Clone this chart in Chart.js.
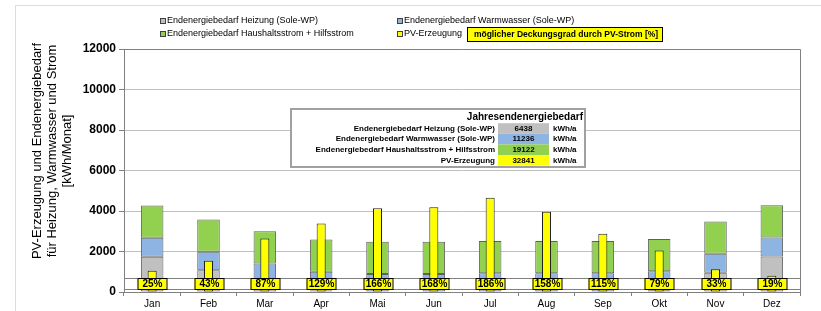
<!DOCTYPE html>
<html>
<head>
<meta charset="utf-8">
<script src="https://cdn.jsdelivr.net/npm/chart.js@4/dist/chart.umd.min.js"></script>
<style>
  html, body { margin: 0; padding: 0; background: #fff; }
  #wrap { position: relative; width: 821px; height: 311px; }
</style>
</head>
<body>
<div id="wrap"><canvas id="chart" width="821" height="311"></canvas></div>
<script>
// Monatswerte in kWh
const monate = ['Jan', 'Feb', 'Mar', 'Apr', 'Mai', 'Jun', 'Jul', 'Aug', 'Sep', 'Okt', 'Nov', 'Dez'];
const heizung = [1740, 1080, 470, 70, 0, 0, 0, 0, 0, 90, 950, 1755];
const warmwasser = [935, 905, 940, 930, 890, 890, 920, 920, 920, 930, 935, 935];
const haushalt = [1595, 1595, 1595, 1595, 1595, 1595, 1595, 1595, 1595, 1595, 1595, 1595];
const pvErzeugung = [1050, 1540, 2640, 3380, 4130, 4180, 4660, 3960, 2880, 2050, 1120, 800];
const deckungsgrad = ['25%', '43%', '87%', '129%', '166%', '168%', '186%', '158%', '115%', '79%', '33%', '19%'];

// Jahreswerte (Tabelle)
const tabelleLabels = [
  'Endenergiebedarf Heizung (Sole-WP)',
  'Endenergiebedarf Warmwasser (Sole-WP)',
  'Endenergiebedarf Haushaltsstrom + Hilfsstrom',
  'PV-Erzeugung'
];
const tabelleWerte = ['6438', '11236', '19122', '32841'];

const FONT = "'Liberation Sans', Arial, sans-serif";
const farben = ['#c0c0c0', '#8eb4e3', '#92d050', '#ffff00'];

const extras = {
  id: 'extras',
  afterDraw(chart) {
    const ctx = chart.ctx;
    const area = chart.chartArea;
    const x = chart.scales.x;
    ctx.save();

    // aeusserer Rahmen
    ctx.strokeStyle = '#dcdcdc';
    ctx.lineWidth = 1;
    ctx.strokeRect(15.5, 5.5, 900, 400);

    // Rahmen Plotbereich
    ctx.strokeStyle = '#808080';
    ctx.beginPath();
    ctx.moveTo(area.left, area.top + 0.5);
    ctx.lineTo(area.right + 0.5, area.top + 0.5);
    ctx.lineTo(area.right + 0.5, area.bottom);
    ctx.stroke();

    // Y-Achsentitel
    const titel = ['PV-Erzeugung und Endenergiebedarf', 'für Heizung, Warmwasser und Strom', '[kWh/Monat]'];
    ctx.fillStyle = '#000';
    ctx.font = '13px ' + FONT;
    ctx.textAlign = 'center';
    ctx.textBaseline = 'middle';
    titel.forEach((t, i) => {
      ctx.save();
      ctx.translate(37 + i * 15, 151);
      ctx.rotate(-Math.PI / 2);
      ctx.fillText(t, 0, 0);
      ctx.restore();
    });

    // Legende
    const leg = [
      [160, 21, farben[0], 'Endenergiebedarf Heizung (Sole-WP)'],
      [397, 21, farben[1], 'Endenergiebedarf Warmwasser (Sole-WP)'],
      [160, 34, farben[2], 'Endenergiebedarf Haushaltsstrom + Hilfsstrom'],
      [397, 34, farben[3], 'PV-Erzeugung']
    ];
    ctx.font = '9px ' + FONT;
    ctx.textAlign = 'left';
    leg.forEach(([lx, ly, c, t]) => {
      ctx.fillStyle = '#404040';
      ctx.fillRect(lx, ly - 3, 6, 6);
      ctx.fillStyle = c;
      ctx.fillRect(lx + 1, ly - 2, 4, 4);
      ctx.fillStyle = '#000';
      ctx.fillText(t, lx + 7, ly);
    });
    ctx.fillStyle = '#ffff00';
    ctx.fillRect(467, 27, 195, 14);
    ctx.strokeStyle = '#000';
    ctx.strokeRect(467.5, 27.5, 195, 14);
    ctx.fillStyle = '#000';
    ctx.font = 'bold 8.5px ' + FONT;
    ctx.textAlign = 'center';
    ctx.fillText('möglicher Deckungsgrad durch PV-Strom [%]', 566, 34.5);

    // Tabelle Jahresendenergiebedarf
    ctx.fillStyle = '#fff';
    ctx.fillRect(291, 109, 294, 58);
    ctx.strokeStyle = '#a0a0a0';
    ctx.lineWidth = 2;
    ctx.strokeRect(291, 109, 294, 58);
    ctx.lineWidth = 1;
    ctx.fillStyle = '#000';
    ctx.font = 'bold 10px ' + FONT;
    ctx.textAlign = 'right';
    ctx.fillText('Jahresendenergiebedarf', 583, 117);
    tabelleLabels.forEach((t, i) => {
      const ry = 128.5 + i * 10.6;
      ctx.fillStyle = farben[i];
      ctx.fillRect(498, ry - 5.3, 51, 10.6);
      ctx.fillStyle = '#000';
      ctx.font = 'bold 8px ' + FONT;
      ctx.textAlign = 'right';
      ctx.fillText(t, 495, ry);
      ctx.textAlign = 'center';
      ctx.fillText(tabelleWerte[i], 523.5, ry);
      ctx.textAlign = 'left';
      ctx.fillText('kWh/a', 553, ry);
    });

    // Band mit Deckungsgrad
    const bTop = 278, bBot = 289;
    ctx.fillStyle = '#fff';
    ctx.fillRect(area.left + 1, bTop, area.right - area.left - 1, bBot - bTop);
    ctx.strokeStyle = '#808080';
    ctx.beginPath();
    ctx.moveTo(area.left, bTop + 0.5); ctx.lineTo(area.right, bTop + 0.5);
    ctx.moveTo(area.left, bBot + 0.5); ctx.lineTo(area.right, bBot + 0.5);
    ctx.stroke();
    ctx.font = 'bold 10px ' + FONT;
    ctx.textAlign = 'center';
    deckungsgrad.forEach((t, i) => {
      const cx = Math.round(x.getPixelForValue(i));
      ctx.fillStyle = '#ffff00';
      ctx.fillRect(cx - 14.5, bTop, 29, bBot - bTop + 1);
      ctx.strokeStyle = '#000';
      ctx.strokeRect(cx - 14, bTop + 0.5, 29, bBot - bTop);
      ctx.fillStyle = '#000';
      ctx.fillText(t, cx + 0.5, (bTop + bBot) / 2 + 1);
    });
    ctx.restore();
  }
};

const bedarfStil = {
  stack: 'bedarf',
  xAxisID: 'x',
  order: 1,
  grouped: false,
  borderColor: '#606060',
  borderWidth: 1,
  borderSkipped: false,
  categoryPercentage: 1,
  barPercentage: 0.4
};

new Chart(document.getElementById('chart'), {
  type: 'bar',
  data: {
    labels: monate,
    datasets: [
      Object.assign({ label: 'Endenergiebedarf Heizung (Sole-WP)', data: heizung, backgroundColor: farben[0] }, bedarfStil),
      Object.assign({ label: 'Endenergiebedarf Warmwasser (Sole-WP)', data: warmwasser, backgroundColor: farben[1] }, bedarfStil),
      Object.assign({ label: 'Endenergiebedarf Haushaltsstrom + Hilfsstrom', data: haushalt, backgroundColor: farben[2] }, bedarfStil),
      {
        label: 'PV-Erzeugung',
        data: pvErzeugung,
        backgroundColor: farben[3],
        borderColor: '#202020',
        borderWidth: 1,
        borderSkipped: false,
        stack: 'pv',
        xAxisID: 'x2',
        order: 0,
        grouped: false,
        categoryPercentage: 1,
        barPercentage: 0.16
      }
    ]
  },
  options: {
    responsive: false,
    animation: false,
    devicePixelRatio: 1,
    layout: { padding: { left: 0, top: 49, right: 21, bottom: 0 } },
    plugins: { legend: { display: false }, tooltip: { enabled: false } },
    scales: {
      x: {
        stacked: true,
        offset: true,
        grid: { drawOnChartArea: false, offset: true, tickLength: 4, color: '#808080' },
        border: { color: '#808080' },
        ticks: { color: '#000', font: { family: FONT, size: 10 }, padding: 2 },
        afterFit(scale) { scale.height = 19; }
      },
      x2: {
        type: 'category',
        display: false,
        offset: true,
        stacked: true
      },
      y: {
        stacked: true,
        min: 0,
        max: 12000,
        ticks: {
          stepSize: 2000,
          color: '#000',
          font: { family: FONT, size: 12, weight: 'bold' },
          padding: 3,
          callback: (v) => String(v)
        },
        grid: { color: '#c0c0c0', tickLength: 5, tickColor: '#808080' },
        border: { color: '#808080' },
        afterFit(scale) { scale.width = 124; }
      }
    }
  },
  plugins: [extras]
});
</script>
</body>
</html>
